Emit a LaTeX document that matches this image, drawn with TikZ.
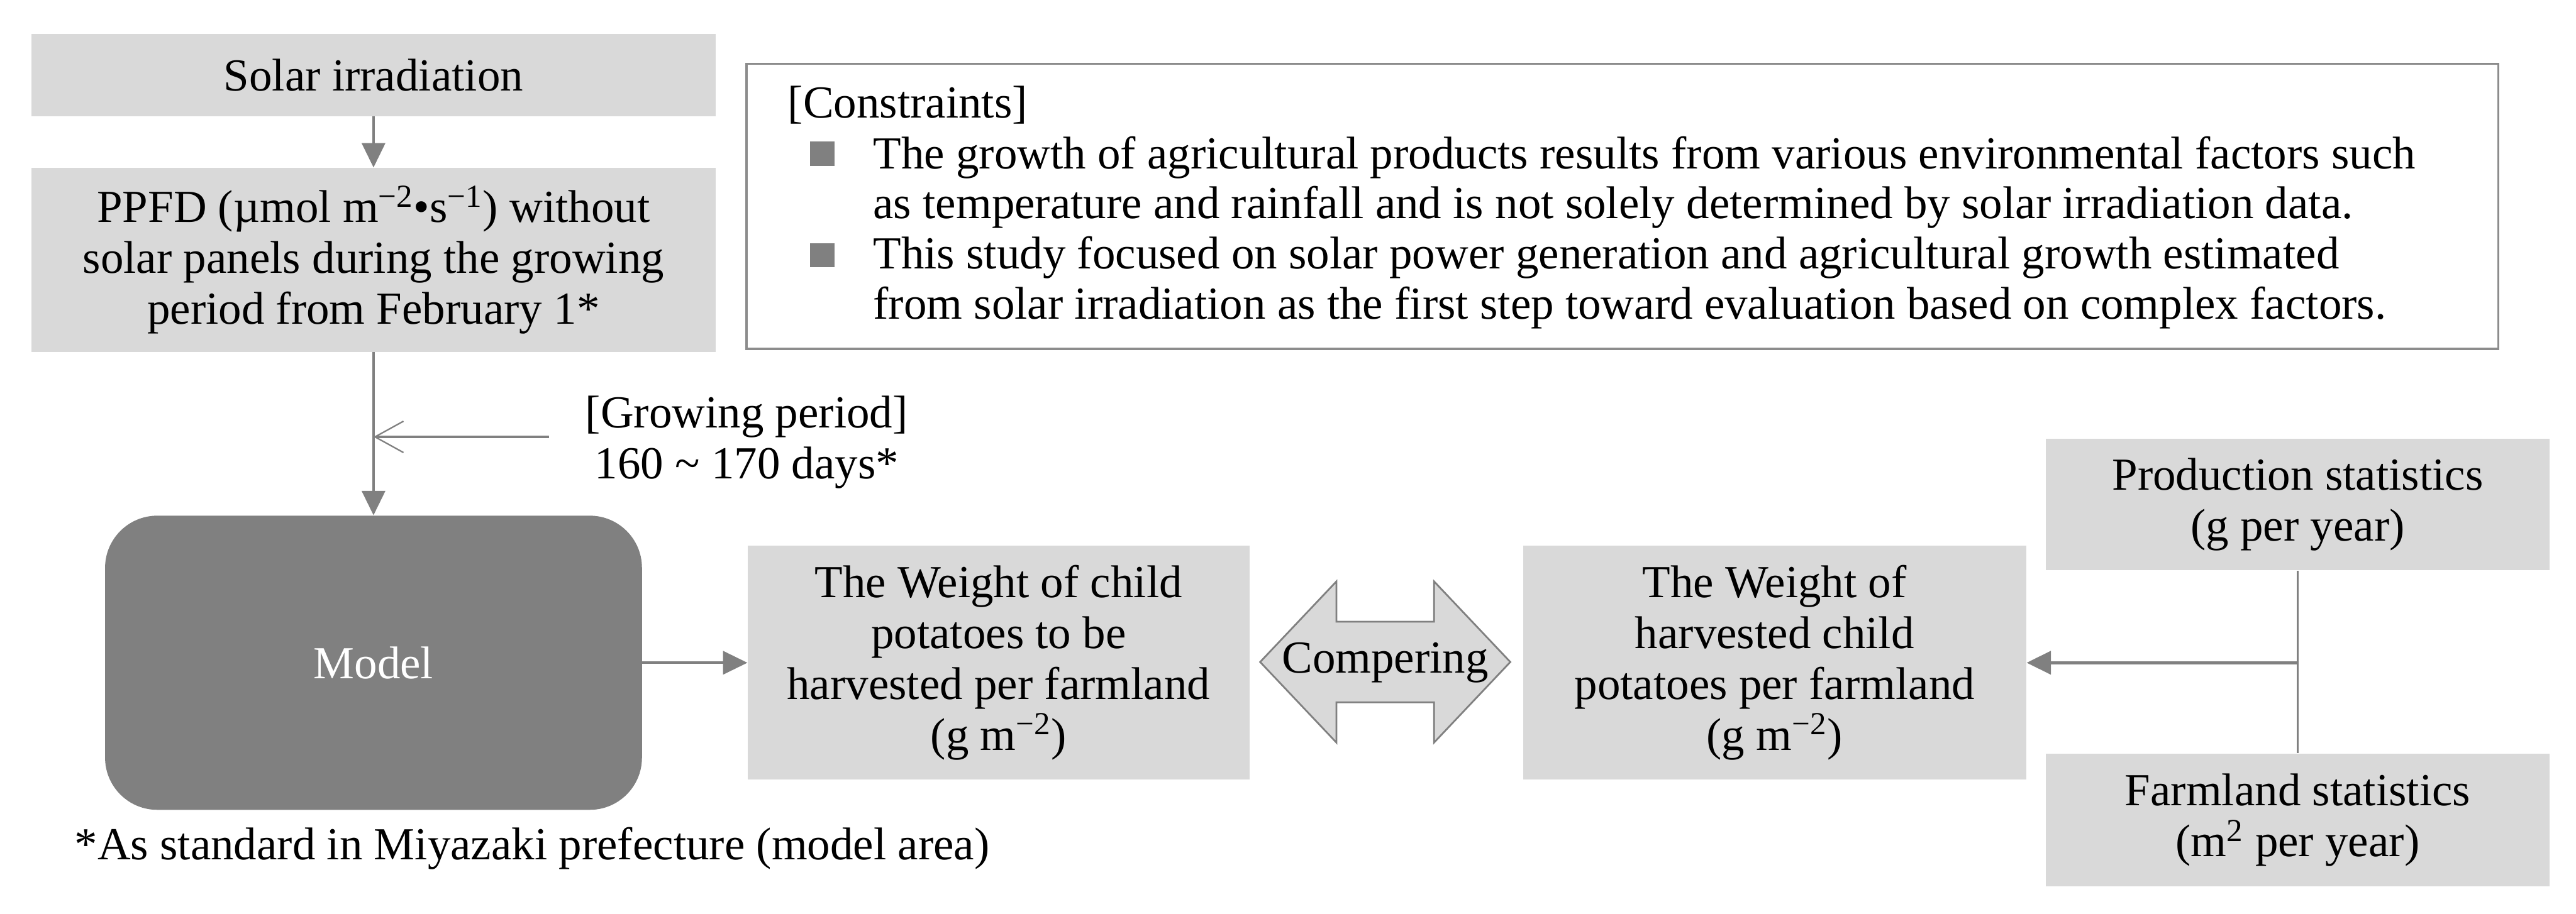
\documentclass[tikz,border=0pt]{standalone}
\usepackage{fontspec}
\setmainfont{Liberation Serif}
\usetikzlibrary{arrows.meta,positioning,calc}
\definecolor{boxgray}{HTML}{D9D9D9}
\definecolor{linegray}{HTML}{808080}
\definecolor{framegray}{HTML}{8C8C8C}

\begin{document}
\begin{tikzpicture}[
  font=\fontsize{22.5}{24.9}\selectfont,
  box/.style={fill=boxgray, align=center, inner sep=0pt},
  modelbox/.style={fill=linegray, rounded corners=0.9cm, text=white, inner sep=0pt,
    minimum width=9.25cm, minimum height=5.07cm},
  bulletsq/.style={fill=linegray, minimum size=0.42cm, inner sep=0pt},
  flow/.style={draw=linegray, line width=0.04cm, -{Triangle[length=0.42cm, width=0.40cm]}},
  barbflow/.style={draw=linegray, line width=0.033cm,
    -{Straight Barb[length=0.49cm, width=0.54cm, line width=0.025cm]}},
  link/.style={draw=linegray, line width=0.025cm},
  cmparrow/.style={draw=linegray, fill=boxgray, line width=0.03cm, line join=miter},
]
  \useasboundingbox (0,0) rectangle (44.38,-15.75);

  \node[box, minimum width=11.79cm, minimum height=1.42cm] (solar) at (6.435,-1.29) {Solar irradiation};
  \node[box, minimum width=11.79cm, minimum height=3.17cm, below=0.88cm of solar] (ppfd) {%
    PPFD (µmol m\textsuperscript{−2}•s\textsuperscript{−1}) without\\
    solar panels during the growing\\
    period from February 1*};
  \node[modelbox, below=2.81cm of ppfd] (model) {Model};
  \node[box, minimum width=8.64cm, minimum height=4.03cm, right=1.81cm of model] (pred) {%
    The Weight of child\\potatoes to be\\harvested per farmland\\(g m\textsuperscript{−2})};
  \node[box, minimum width=8.67cm, minimum height=4.03cm, right=4.70cm of pred] (obs) {%
    The Weight of\\harvested child\\potatoes per farmland\\(g m\textsuperscript{−2})};
  \node[box, minimum width=8.67cm, minimum height=2.27cm] (prod) at (39.585,-8.695) {%
    Production statistics\\(g per year)};
  \node[box, minimum width=8.67cm, minimum height=2.29cm] (farm) at (39.585,-14.135) {%
    Farmland statistics\\(m\textsuperscript{2} per year)};

  \node[draw=framegray, line width=0.04cm, minimum width=30.18cm, minimum height=4.91cm, inner sep=0pt] (cons) at (27.95,-3.555) {};
  \node[anchor=base west] (ctitle) at (13.45,-2.03) {[Constraints]};
  \node[bulletsq] (sq1) at (14.17,-2.65) {};
  \node[bulletsq] (sq2) at (14.17,-4.40) {};
  \foreach \y/\txt [count=\i] in {
      2.91/The growth of agricultural products results from various environmental factors such,
      3.77/as temperature and rainfall and is not solely determined by solar irradiation data.,
      4.63/This study focused on solar power generation and agricultural growth estimated,
      5.50/from solar irradiation as the first step toward evaluation based on complex factors.}
    \node[anchor=base west] (cline\i) at (14.92,-\y) {\txt};

  \node[align=center, anchor=west, inner sep=0pt] (grow) at (10.08,-7.62) {[Growing period]\\160 \textasciitilde{} 170 days*};
  \coordinate (gp) at (9.46,-7.53);

  \draw[cmparrow, shift={(23.865,-11.41)}] (-2.155,0) -- (-0.84,1.39) -- (-0.84,0.695) -- (0.84,0.695)
    -- (0.84,1.39) -- (2.155,0) -- (0.84,-1.39) -- (0.84,-0.695) -- (-0.84,-0.695) -- (-0.84,-1.39) -- cycle;
  \node (cmp) at (23.865,-11.42) {Compering};

  \node[anchor=base west] (note) at (1.16,-14.82) {*As standard in Miyazaki prefecture (model area)};

  \draw[flow] (solar) -- (ppfd);
  \draw[flow] (ppfd) -- (model);
  \draw[barbflow] (gp) -- (gp -| ppfd.south);
  \draw[flow] (model.east) -- (pred.west);
  \draw[link] (prod) -- (farm);
  \draw[flow, line width=0.05cm] (prod.south |- obs.east) -- (obs.east);
\end{tikzpicture}
\end{document}
